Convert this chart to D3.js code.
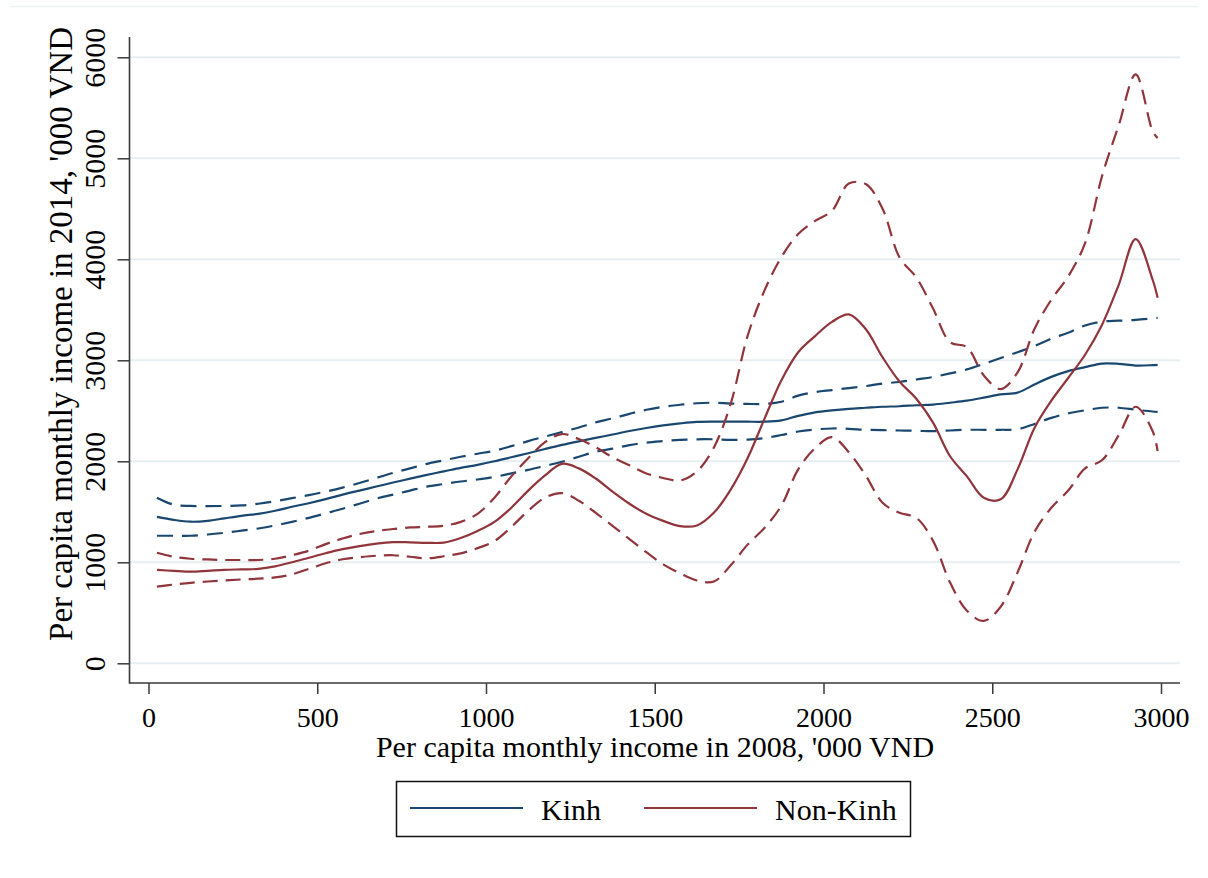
<!DOCTYPE html>
<html><head><meta charset="utf-8">
<script src="https://cdn.jsdelivr.net/npm/d3@7"></script>
<style>html,body{margin:0;padding:0;background:#fff;} svg{display:block;}</style>
</head><body><svg id="chart" width="1208" height="878"></svg>
<script>
// Per capita monthly income in 2008 ('000 VND) — evaluation grid
const incomeX = [25,75,125,175,225,275,325,375,425,475,525,575,625,675,725,775,825,875,925,975,
  1025,1075,1125,1175,1225,1275,1325,1375,1425,1475,1525,1575,1625,1675,1725,1775,1825,1875,1925,1975,
  2025,2075,2125,2175,2225,2275,2325,2375,2425,2475,2525,2575,2625,2675,2725,2775,2825,2875,2925,2975,2990];

const kinhMean = [1450,1420,1402,1410,1435,1460,1480,1510,1550,1585,
  1625,1670,1710,1750,1790,1828,1866,1900,1935,1965,
  2000,2040,2080,2122,2162,2198,2232,2265,2300,2330,
  2355,2375,2390,2393,2393,2392,2392,2405,2450,2485,
  2505,2520,2530,2540,2545,2555,2562,2580,2600,2630,
  2663,2680,2760,2836,2893,2932,2968,2965,2948,2952,2955];
const kinhUpper = [1640,1570,1558,1557,1558,1563,1580,1605,1635,1665,
  1700,1740,1785,1835,1885,1930,1975,2010,2045,2075,
  2105,2150,2200,2245,2290,2335,2385,2425,2470,2510,
  2540,2560,2575,2580,2572,2568,2568,2590,2650,2685,
  2705,2725,2745,2770,2785,2810,2835,2870,2910,2965,
  3022,3080,3140,3215,3272,3345,3383,3392,3400,3415,3420];
const kinhLower = [1263,1263,1263,1275,1292,1313,1335,1365,1400,1440,
  1485,1530,1580,1630,1670,1710,1750,1775,1800,1820,
  1845,1880,1915,1955,1995,2045,2095,2125,2160,2185,
  2200,2212,2218,2218,2213,2215,2230,2260,2295,2315,
  2325,2322,2312,2308,2305,2302,2298,2305,2312,2312,
  2312,2318,2370,2430,2475,2505,2530,2530,2510,2493,2490];
const nonKinhMean = [925,915,907,915,925,930,935,960,1000,1045,
  1090,1130,1160,1185,1200,1198,1193,1195,1240,1310,
  1400,1540,1710,1860,1975,1930,1830,1700,1580,1480,
  1410,1358,1365,1490,1720,2030,2420,2800,3080,3240,
  3380,3455,3310,3030,2790,2620,2380,2050,1851,1640,
  1624,1920,2330,2600,2825,3055,3350,3750,4200,3800,3620];
const nonKinhUpper = [1095,1055,1035,1028,1023,1023,1023,1035,1070,1115,
  1180,1235,1280,1310,1330,1345,1352,1362,1400,1480,
  1640,1850,2030,2190,2270,2220,2140,2040,1960,1880,
  1835,1810,1900,2135,2570,3240,3690,4020,4250,4380,
  4480,4750,4745,4500,4020,3820,3510,3180,3130,2850,
  2715,2880,3310,3600,3830,4160,4820,5330,5830,5270,5200];
const nonKinhLower = [760,780,797,810,820,830,838,850,880,935,
  990,1030,1050,1065,1070,1055,1040,1060,1089,1140,
  1210,1350,1510,1640,1685,1610,1490,1360,1230,1100,
  980,891,820,810,970,1175,1340,1560,1920,2130,
  2240,2090,1860,1590,1490,1440,1210,800,520,420,
  560,900,1300,1540,1710,1930,2010,2260,2540,2300,2100];

const xTicks = [0,500,1000,1500,2000,2500,3000];
const yTicks = [0,1000,2000,3000,4000,5000,6000];
const groupNames = ["Kinh","Non-Kinh"];
const groupColors = ["#1a476f","#90353b"];
const xTitle = "Per capita monthly income in 2008, '000 VND";
const yTitle = "Per capita monthly income in 2014, '000 VND";

const FONT = "'Liberation Serif','Times New Roman',serif";
const svg = d3.select("#chart");
svg.append("rect").attr("width",1208).attr("height",878).attr("fill","#fff");

const x = d3.scaleLinear().domain([0,3000]).range([148.5,1161]);
const y = d3.scaleLinear().domain([0,6000]).range([663.3,57.3]);
const axisX = 129.5, axisY = 683, plotRight = 1180;
const fmt = d3.format("d");

// faint outer frame line
svg.append("line").attr("x1",10).attr("x2",1198).attr("y1",6.5).attr("y2",6.5)
  .attr("stroke","#edf1f3").attr("stroke-width",1.5);

// gridlines
svg.append("g").selectAll("line").data(yTicks).join("line")
  .attr("x1",axisX).attr("x2",plotRight)
  .attr("y1",d=>y(d)).attr("y2",d=>y(d))
  .attr("stroke","#e7eef1").attr("stroke-width",2);

// series
const line = d3.line()
  .x((d,i)=>x(incomeX[i])).y(d=>y(d))
  .curve(d3.curveCatmullRom.alpha(0.5));

const series = [
  {v:kinhUpper, c:0, dash:"16,9"},
  {v:kinhLower, c:0, dash:"16,9"},
  {v:kinhMean, c:0, dash:null},
  {v:nonKinhUpper, c:1, dash:"15,8"},
  {v:nonKinhLower, c:1, dash:"15,8"},
  {v:nonKinhMean, c:1, dash:null}
];
svg.append("g").selectAll("path").data(series).join("path")
  .attr("d",d=>line(d.v))
  .attr("fill","none")
  .attr("stroke",d=>groupColors[d.c])
  .attr("stroke-width",2.2)
  .attr("stroke-dasharray",d=>d.dash);

// y axis
const gy = svg.append("g").attr("transform",`translate(${axisX},0)`)
  .call(d3.axisLeft(y).tickValues(yTicks).tickFormat(fmt).tickSize(12).tickSizeOuter(0));
gy.select(".domain").remove();
gy.selectAll(".tick line").attr("stroke","#3a3a3a").attr("stroke-width",1.5);
gy.selectAll(".tick text")
  .attr("x",0).attr("y",-25).attr("dy","0")
  .attr("transform","rotate(-90)").attr("text-anchor","middle")
  .attr("fill","#000").style("font-family",FONT).style("font-size","30px");

// x axis
const gx = svg.append("g").attr("transform",`translate(0,${axisY})`)
  .call(d3.axisBottom(x).tickValues(xTicks).tickFormat(fmt).tickSize(11).tickSizeOuter(0));
gx.select(".domain").remove();
gx.selectAll(".tick line").attr("stroke","#3a3a3a").attr("stroke-width",1.5);
gx.selectAll(".tick text")
  .attr("y",44).attr("dy","0")
  .attr("fill","#000").style("font-family",FONT).style("font-size","28px");

// axis lines
svg.append("line").attr("x1",axisX).attr("x2",axisX).attr("y1",y(6200)).attr("y2",axisY+0.75)
  .attr("stroke","#3a3a3a").attr("stroke-width",1.6);
svg.append("line").attr("x1",axisX).attr("x2",plotRight).attr("y1",axisY).attr("y2",axisY)
  .attr("stroke","#3a3a3a").attr("stroke-width",1.6);

// titles
svg.append("text").attr("x",655).attr("y",757).attr("text-anchor","middle")
  .style("font-family",FONT).style("font-size","30px").text(xTitle);
svg.append("text").attr("transform","translate(72,334) rotate(-90)").attr("text-anchor","middle")
  .style("font-family",FONT).style("font-size","33px").text(yTitle);

// legend
const lg = svg.append("g");
lg.append("rect").attr("x",396.5).attr("y",781.5).attr("width",514).attr("height",55)
  .attr("fill","#fff").attr("stroke","#111").attr("stroke-width",1.5);
const legendPos = [{lx:410, tx:541},{lx:644, tx:775}];
groupNames.forEach((name,i)=>{
  lg.append("line").attr("x1",legendPos[i].lx).attr("x2",legendPos[i].lx+113)
    .attr("y1",808).attr("y2",808).attr("stroke",groupColors[i]).attr("stroke-width",2.2);
  lg.append("text").attr("x",legendPos[i].tx).attr("y",820)
    .style("font-family",FONT).style("font-size","30px").text(name);
});
</script>
</body></html>
